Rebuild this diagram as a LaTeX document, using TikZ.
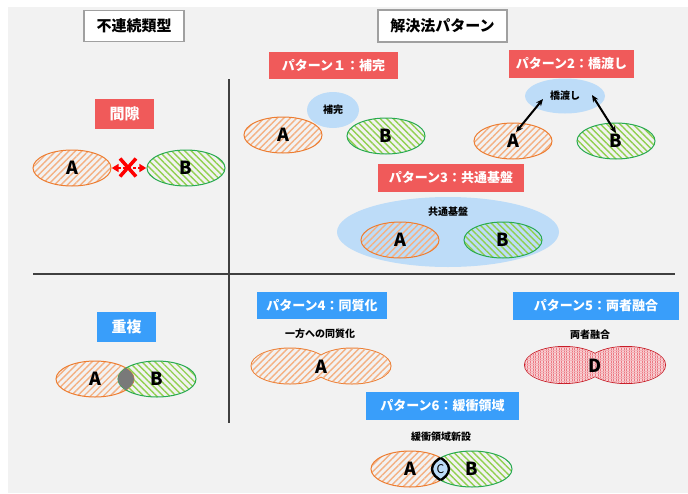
\documentclass[tikz,border=0pt]{standalone}
\usepackage{fontspec}
\setmainfont{Noto Sans CJK JP}
\usetikzlibrary{shapes.geometric,patterns.meta,arrows.meta}
\definecolor{bg}{RGB}{242,242,242}
\definecolor{redlab}{RGB}{240,90,90}
\definecolor{bluelab}{RGB}{57,158,250}
\definecolor{lblue}{RGB}{189,220,248}
\definecolor{orgline}{RGB}{237,125,49}
\definecolor{orghatch}{RGB}{244,177,131}
\definecolor{grnline}{RGB}{40,170,80}
\definecolor{grnhatch}{RGB}{146,208,80}
\definecolor{divline}{RGB}{64,64,64}
\definecolor{dred}{RGB}{200,30,40}
\definecolor{pinkred}{RGB}{235,120,130}
\definecolor{boxgray}{RGB}{160,160,160}
\tikzset{
  titlebox/.style={fill=white, draw=boxgray, line width=1.5pt, inner sep=0pt, font=\bfseries\fontsize{15}{15}\selectfont},
  redtag/.style={fill=redlab, text=white, inner sep=0pt, font=\bfseries\fontsize{13}{13}\selectfont},
  bluetag/.style={fill=bluelab, text=white, inner sep=0pt, font=\bfseries\fontsize{13}{13}\selectfont},
  bigtag/.style={font=\bfseries\fontsize{15}{15}\selectfont},
  small/.style={inner sep=0pt, font=\bfseries\fontsize{10}{10}\selectfont},
  letter/.style={inner sep=0pt, font=\bfseries\fontsize{18}{18}\selectfont},
  ovalA/.style={ellipse, draw=orgline, line width=1pt, inner sep=0pt,
    pattern={Lines[angle=45,distance=4.6pt,line width=1.4pt]}, pattern color=orghatch,
    minimum width=78pt, minimum height=36pt, font=\bfseries\fontsize{18}{18}\selectfont},
  ovalB/.style={ellipse, draw=grnline, line width=1pt, inner sep=0pt,
    pattern={Lines[angle=-45,distance=4.6pt,line width=1.4pt]}, pattern color=grnhatch,
    minimum width=78pt, minimum height=36pt, font=\bfseries\fontsize{18}{18}\selectfont},
  cloud/.style={ellipse, fill=lblue, inner sep=0pt},
  bridge/.style={black, line width=2pt, {Stealth[length=7pt,width=6pt]}-{Stealth[length=7pt,width=6pt]}},
  divider/.style={divline, line width=2.5pt}
}
\begin{document}
\begin{tikzpicture}[x=1pt,y=-1pt]
\useasboundingbox (0,0) rectangle (688,493);
\fill[white] (0,0) rectangle (688,493);
\fill[bg] (8,7) rectangle (688,493);

% dividers
\coordinate (vt) at (229,79);
\coordinate (vb) at (229,423);
\coordinate (hl) at (33,274);
\coordinate (hr) at (675,274);
\draw[divider] (vt) -- (vb);
\draw[divider] (hl) -- (hr);

% titles
\node[titlebox, minimum width=100pt, minimum height=31pt] (t1) at (134,26) {不連続類型};
\node[titlebox, minimum width=129pt, minimum height=32pt] (t2) at (442.5,26) {解決法パターン};

% tags
\node[redtag, bigtag, minimum width=59pt, minimum height=30pt] (gap) at (124.5,114) {間隙};
\node[redtag, minimum width=129pt, minimum height=27pt] (p1) at (333.5,65.5) {パターン１：補完};
\node[redtag, minimum width=125pt, minimum height=28pt] (p2) at (571.5,64) {パターン2：橋渡し};
\node[redtag, minimum width=146pt, minimum height=28pt] (p3) at (451,178) {パターン3：共通基盤};
\node[bluetag, bigtag, minimum width=59pt, minimum height=30pt] (dup) at (126.5,327) {重複};
\node[bluetag, minimum width=130pt, minimum height=27pt] (p4) at (322,305.5) {パターン4：同質化};
\node[bluetag, minimum width=166pt, minimum height=28pt] (p5) at (596,306) {パターン5：両者融合};
\node[bluetag, minimum width=153pt, minimum height=28pt] (p6) at (442.5,406) {パターン6：緩衝領域};

% ---- gap
\node[ovalA] (ga) at (72,168) {A};
\node[ovalB] (gb) at (186,168) {B};
\draw[red, line width=2.5pt, dash pattern=on 2.5pt off 2.5pt, {Triangle[length=7pt,width=8pt]}-{Triangle[length=7pt,width=8pt]}] (ga.east) -- (gb.west);
\coordinate (xc) at (128,167.5);
\draw[red, line width=3.5pt] ([shift={(-8,-9)}]xc) -- ([shift={(8,9)}]xc) ([shift={(-8,9)}]xc) -- ([shift={(8,-9)}]xc);

% ---- pattern 1
\node[cloud, minimum width=52pt, minimum height=36pt, small] (hk) at (333,110) {補完};
\node[ovalA] (p1a) at (283,135) {A};
\node[ovalB] (p1b) at (386,136) {B};

% ---- pattern 2
\node[cloud, minimum width=80pt, minimum height=35pt, small] (hw) at (565,96) {橋渡し};
\node[ovalA] (p2a) at (513,141) {A};
\node[ovalB] (p2b) at (616,141) {B};
\coordinate (hw1) at (543,99);
\coordinate (a2t) at (516,132);
\coordinate (hw2) at (592,95);
\coordinate (b2t) at (616,133);
\draw[bridge] (hw1) -- (a2t);
\draw[bridge] (hw2) -- (b2t);

% ---- pattern 3
\node[cloud, minimum width=222pt, minimum height=70pt] (kb) at (448,232) {};
\node[small] (kbt) at (448,212) {共通基盤};
\node[ovalA] (p3a) at (400,240) {A};
\node[ovalB] (p3b) at (503,240) {B};

% ---- overlap
\node[ovalA] (da) at (95,379) {A};
\node[ovalB] (db) at (157,379) {B};
\begin{scope}
  \clip (95,379) ellipse [x radius=39, y radius=18];
  \fill[gray!95!black] (157,379) ellipse [x radius=39, y radius=18];
\end{scope}

% ---- pattern 4
\node[small] (p4t) at (320,334) {一方への同質化};
\fill[orgline] (290,366) ellipse [x radius=39.5, y radius=18.5] (352,366) ellipse [x radius=39.5, y radius=18.5];
\fill[bg] (290,366) ellipse [x radius=38.5, y radius=17.5] (352,366) ellipse [x radius=38.5, y radius=17.5];
\fill[pattern={Lines[angle=45,distance=4.6pt,line width=1.4pt]}, pattern color=orghatch] (290,366) ellipse [x radius=38.5, y radius=17.5] (352,366) ellipse [x radius=38.5, y radius=17.5];
\node[letter] (p4a) at (321,367) {A};

% ---- pattern 5
\node[small] (p5t) at (590,335) {両者融合};
\fill[dred] (564,365) ellipse [x radius=40, y radius=19] (626,365) ellipse [x radius=40, y radius=19];
\fill[bg] (564,365) ellipse [x radius=39, y radius=18] (626,365) ellipse [x radius=39, y radius=18];
\fill[pinkred!35] (564,365) ellipse [x radius=39, y radius=18] (626,365) ellipse [x radius=39, y radius=18];
\fill[pattern={Lines[angle=90,distance=2.6pt,line width=0.9pt]}, pattern color=pinkred] (564,365) ellipse [x radius=39, y radius=18] (626,365) ellipse [x radius=39, y radius=18];
\fill[pattern={Lines[angle=0,distance=2.6pt,line width=0.4pt]}, pattern color=pinkred!60] (564,365) ellipse [x radius=39, y radius=18] (626,365) ellipse [x radius=39, y radius=18];
\node[letter] (p5d) at (595,366) {D};

% ---- pattern 6
\node[small] (p6t) at (441,437) {緩衝領域新設};
\node[ovalA] (p6a) at (410,469) {A};
\node[ovalB, minimum width=80pt] (p6b) at (472,469) {B};
\begin{scope}
  \clip (410,469) ellipse [x radius=39, y radius=18];
  \fill[lblue] (472,469) ellipse [x radius=40, y radius=18];
  \draw[black, line width=2.4pt] (472,469) ellipse [x radius=40, y radius=18];
\end{scope}
\begin{scope}
  \clip (472,469) ellipse [x radius=40, y radius=18];
  \draw[black, line width=2.4pt] (410,469) ellipse [x radius=39, y radius=18];
\end{scope}
\node[inner sep=0pt, font=\fontsize{12}{12}\selectfont] (p6c) at (440.5,469) {C};
\end{tikzpicture}
\end{document}
